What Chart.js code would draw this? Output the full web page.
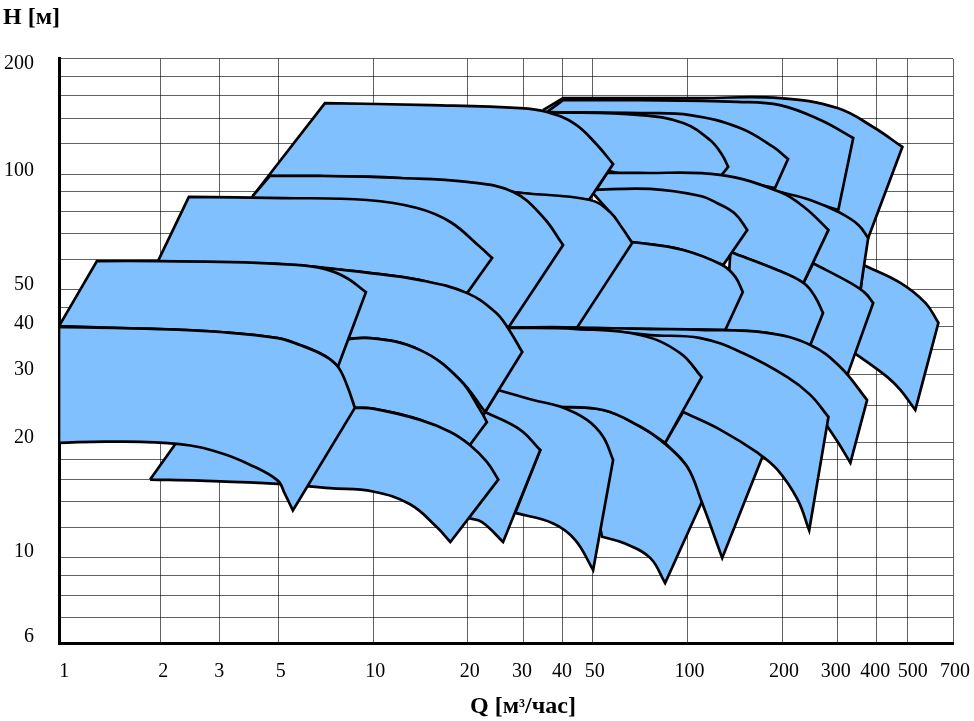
<!DOCTYPE html>
<html>
<head>
<meta charset="utf-8">
<script src="https://cdn.jsdelivr.net/npm/chart.js@4.4.1/dist/chart.umd.min.js"></script>
<style>
html,body{margin:0;padding:0;background:#fff;}
#wrap{position:relative;width:974px;height:721px;}
#qt{position:absolute;left:373px;top:691px;width:300px;text-align:center;
    font-family:'Liberation Serif','Times New Roman',serif;font-weight:bold;font-size:24px;line-height:28px;color:#000;}
#qt sup{font-size:12px;vertical-align:top;position:relative;top:-2px;}
</style>
</head>
<body>
<div id="wrap"><canvas id="c" width="974" height="721"></canvas>
<div id="qt">Q [м<sup>3</sup>/час]</div></div>
<script>
// ---- axis grid & labels ----
const Q_GRID       = [1, 2.1, 3.23, 5, 10, 20, 30, 40, 50, 100, 200, 300, 400, 500, 700];
const Q_LABEL_POS  = [1.024, 2.116, 3.19, 5, 10, 20, 29.3, 39.3, 50, 100, 200, 292, 390, 514, 700];
const Q_LABEL_TEXT = ['1','2','3','5','10','20','30','40','50','100','200','300','400','500','700'];
const H_GRID       = [6,7,8,9,10,12,14,16,18,20,25,30,35,40,45,50,60,70,80,90,100,120,140,160,180,200];
const H_LABEL_POS  = [6.24, 10.4, 20.6, 30.9, 40.8, 51.5, 101.9, 194.3];
const H_LABEL_TEXT = ['6','10','20','30','40','50','100','200'];

// ---- pump fields: [Q m3/h, H m, corner flag] ----
const p12 = [[34.7,147,1],[40.2,158,1],[110,158],[197,158],[300,148.8],[390,132.8],[483,117.8,1],[376,68.2,1],[306,79.3],[197,89.9,1],[70.7,97.8,1],[39.3,108.9,1]];
const p13 = [[35.7,145.3,1],[40.2,156,1],[70.7,156],[144,154.5],[197,151.5],[265,138.5],[337,124.3,1],[302,80.7,1],[197,89.9,1],[70.7,97.8,1],[39.3,108.9,1]];
const p26 = [[363,58,1],[476,52.1],[572,46.2],[629,41,1],[531,24.3,1],[476,27.4],[433,29.6],[337,34.4,1],[355,49.3,1]];
const p17 = [[197,89.9,1],[246,85.7],[306,79.3],[350,73.8],[376,68.2,1],[355,49.9,1],[251,58.4,1],[212,80.7,1]];
const p25 = [[251,58.6,1],[330,52.1],[368,49],[390,46.2,1],[323,30,1],[246,35.9,1],[234,52.1,1]];
const p14 = [[35.7,145.3,1],[70.7,144.4],[102,142.7],[147,132],[187.5,117.8],[209,109.6,1],[190,92.1,1],[127,98.4,1],[70.7,97.8,1],[39.3,108.9,1]];
const p15 = [[35.7,145.3,1],[70.7,142.7],[96.9,136],[118,122.8],[129,112.3],[134.8,104.5,1],[127,98.4,1],[70.7,97.8,1],[39.3,108.9,1]];
const p16 = [[55.5,100.8,1],[70.7,100.8],[127,99.6],[197,89.9],[237,81.7],[281,71.6,1],[234,52.1,1],[193,56.3],[137,62.7,1],[110,85.7,1],[51.2,91,1]];
const p18 = [[137,62.7,1],[193,56.3],[234,52.1],[255,47.9],[270,43.5,1],[246,35.9,1],[179,38.6],[132,39.3,1]];
const p19 = [[49,91,1],[76.1,91.6],[110,87.8],[124,84.2],[142,78.8],[155,71.6,1],[130,58,1],[96.9,63.5],[70.7,66.2],[66.7,66.2,1],[56.7,79.7,1]];
const p5  = [[4.14,87.8,1],[7.02,153.3,1],[15.2,151.5],[29.3,148.8],[35.7,145.3],[43.9,135.2],[51.6,119.2],[58,106.3,1],[48.6,85.7,1],[27.9,89.9],[12.2,97.8],[4.69,99,1]];
const p24 = [[44.5,39.8,1],[52.7,67.4,1],[70.7,66.2],[96.9,63.5],[129,58],[142,54],[150,49.3,1],[132,39.3,1]];
const p11 = [[21.9,93.2,1],[27.9,89.9],[49,85.7],[56.7,79.7],[62,72.4],[66.7,66.2,1],[44.5,39.8,1],[26.9,39.8,1],[31.6,53,1]];
const p6  = [[4.14,87.8,1],[4.69,99,1],[6.77,99],[12.2,97.8],[19.9,95.5],[27.9,89.9],[34.7,77.4],[40.2,65.4,1],[26.9,39.8,1],[19.9,49],[14.1,53],[9.27,55.6,1],[3.25,59.1,1]];
const p4  = [[2.06,59.1,1],[2.59,87.3,1],[5.16,86.7],[9.55,85.7],[13.8,81.7],[17.6,75.1],[21.9,64.6],[23.9,60.5,1],[19.9,49,1],[14.1,53],[9.27,55.6],[6.77,57],[4.97,58.4,1]];
const p20 = [[26.9,39.8,1],[45.5,39.8],[76.1,39.5],[110,39.3],[179,38.6],[246,35.9],[306,31.5],[373,25.8,1],[330,17.7,1],[302,19.95],[279,22,1],[208,26.6,1],[110,29.1,1],[52.7,29.1,1],[25,27.1,1]];
const p28 = [[37.4,24.8,1],[53.9,24.3],[70.7,22],[81.9,20.3],[99.8,17.3],[112,14.2,1],[84.9,8.6,1],[76.1,10],[63.3,10.9],[53.5,11.35,1],[49,16,1],[39.3,22.9,1]];
const p29 = [[84.9,19.95,1],[96.9,24,1],[190,22.2,1],[129,10,1],[111,14],[99.8,17.3]];
const p27 = [[26.9,39.8,1],[44.5,39.8],[76.1,38.1],[110,37.4],[150,34.2],[208,29.6],[246,26.6],[281,23.3,1],[244,11.8,1],[224,14.2],[193,17],[167,18.8],[127,21.6],[96.9,24,1],[61,25.8,1],[25,27.1,1]];
const p23 = [[26.9,39.8,1],[44.5,39.5],[70.7,38.1],[94.8,34.2],[111,29.6,1],[84.9,19.95,1],[70.7,22],[53.9,24.3],[37.4,24.8,1],[25,27.1,1]];
const p21 = [[25,27.4,1],[32.3,25.8],[39.3,24.8],[47.9,22.9],[53.9,20.7],[58,18,1],[50.1,9.3,1],[43.9,11.15],[37.4,12.3],[28.3,13.1,1],[34,19.1,1],[22.7,24,1]];
const p7  = [[5.84,58,1],[9.27,55.6],[14.1,53],[19.9,49],[24.4,43.8],[26.7,40],[29.8,34.4,1],[22.7,24,1],[18.9,29.1],[14.1,34.8],[9.76,37.4],[7.28,36.6,1]];
const p9  = [[22.7,24,1],[29.3,21.6],[34,19.1,1],[25.9,11,1],[22.2,12.4],[20,12.7,1],[20.3,19.7,1]];
const p8  = [[7.28,36.6,1],[9.76,37.4],[14.1,34.8],[18.9,29.1],[21.9,24.3],[23,22.6,1],[20.3,19.7,1],[14.1,22.9],[9.98,24.5],[8.74,24.6,1],[7.72,31.5,1]];
const p3  = [[1.95,16,1],[2.83,24.6,1],[5.05,24.8],[8.74,24.6],[9.98,24.5],[14.1,22.9],[17.6,21.3],[20.3,19.7],[23,17.8],[25,16,1],[17.6,11,1],[15.9,12.05],[13.1,13.8],[9.98,14.9],[7.28,15.2],[4.97,15.6],[2.81,15.9]];
const p1  = [[1,40.2,1],[1.32,59.4,1],[2.09,59.4],[3.25,59.1],[4.97,58.4],[6.77,57],[8.13,54],[9.48,49.3,1],[7.72,31.5,1],[7.02,33.6],[5.84,35.9],[4.97,37.4],[3.25,38.8],[2.09,39.5],[1.45,39.8]];
const p2  = [[1,40,1],[2.09,39.5],[3.25,38.8],[4.97,37.4],[5.84,35.9],[7.02,33.6],[7.72,31.5],[8.25,28.2],[8.74,24.6,1],[5.55,13.3,1],[5.23,14.7],[4.97,15.9],[4.05,17.5],[3.25,18.8],[2.42,19.8],[1.45,20.1],[1,19.95,1]];

// drawing order: back -> front
const FIELDS = [p12,p13,p26,p17,p25,p14,p15,p16,p18,p19,p5,p24,p11,p6,p4,p20,p28,p29,p27,p23,p21,p7,p9,p8,p3,p1,p2];

function outline(f){
  const pts=[];
  for(const [q,h,c] of f){ pts.push({x:q,y:h}); if(c) pts.push({x:q,y:h}); }
  pts.push({x:f[0][0],y:f[0][1]});
  return pts;
}
function mergeTicks(grid, labels){
  const all = grid.slice();
  for (const v of labels) if (!all.includes(v)) all.push(v);
  return all.sort((a,b)=>a-b).map(v => ({ value: v }));
}

const SERIF = "'Liberation Serif','Times New Roman',serif";
Chart.defaults.font.family = SERIF;
const GRID = 'rgba(0,0,0,0.62)';
const NONE = 'rgba(0,0,0,0)';

new Chart(document.getElementById('c'), {
  type: 'scatter',
  data: {
    datasets: FIELDS.map((f,i)=>({
      data: outline(f),
      showLine: true,
      fill: 'shape',
      backgroundColor: '#80C0FF',
      borderColor: '#000',
      borderWidth: 2.7,
      borderJoinStyle: 'miter',
      pointRadius: 0,
      pointHoverRadius: 0,
      tension: 0.4,
      order: FIELDS.length - i
    }))
  },
  options: {
    responsive: false,
    animation: false,
    events: [],
    layout: { padding: { left: 3, right: 21, top: 0, bottom: 0 } },
    plugins: {
      legend: { display: false },
      tooltip: { enabled: false },
      title: {
        display: true, text: 'H [м]', align: 'start', color: '#000',
        font: { family: SERIF, size: 24, weight: 'bold' },
        padding: { top: 3, bottom: 27 }
      }
    },
    scales: {
      x: {
        type: 'logarithmic', min: 1, max: 700, z: 1,
        afterBuildTicks: s => { s.ticks = mergeTicks(Q_GRID, Q_LABEL_POS); },
        afterFit: s => { s.height = 78; s.paddingLeft = 0; s.paddingRight = 0; },
        ticks: {
          autoSkip: false, maxRotation: 0, color: '#000', padding: 17, labelOffset: 2,
          font: { family: SERIF, size: 20 },
          callback: v => { const k = Q_LABEL_POS.indexOf(v); return k >= 0 ? Q_LABEL_TEXT[k] : ''; }
        },
        grid: {
          lineWidth: 1, drawTicks: false,
          color: ctx => (ctx.tick && !Q_GRID.includes(ctx.tick.value)) ? NONE : GRID
        },
        border: { display: true, color: '#000', width: 3 }
      },
      y: {
        type: 'logarithmic', min: 6, max: 200, z: 1,
        afterBuildTicks: s => { s.ticks = mergeTicks(H_GRID, H_LABEL_POS); },
        afterFit: s => { s.width = 56; s.paddingTop = 0; s.paddingBottom = 0; },
        ticks: {
          autoSkip: false, color: '#000', padding: 25, labelOffset: 0,
          font: { family: SERIF, size: 20 },
          callback: v => { const k = H_LABEL_POS.indexOf(v); return k >= 0 ? H_LABEL_TEXT[k] : ''; }
        },
        grid: {
          lineWidth: 1, drawTicks: false,
          color: ctx => (ctx.tick && !H_GRID.includes(ctx.tick.value)) ? NONE : GRID
        },
        border: { display: true, color: '#000', width: 3 }
      }
    }
  }
});
</script>
</body>
</html>
